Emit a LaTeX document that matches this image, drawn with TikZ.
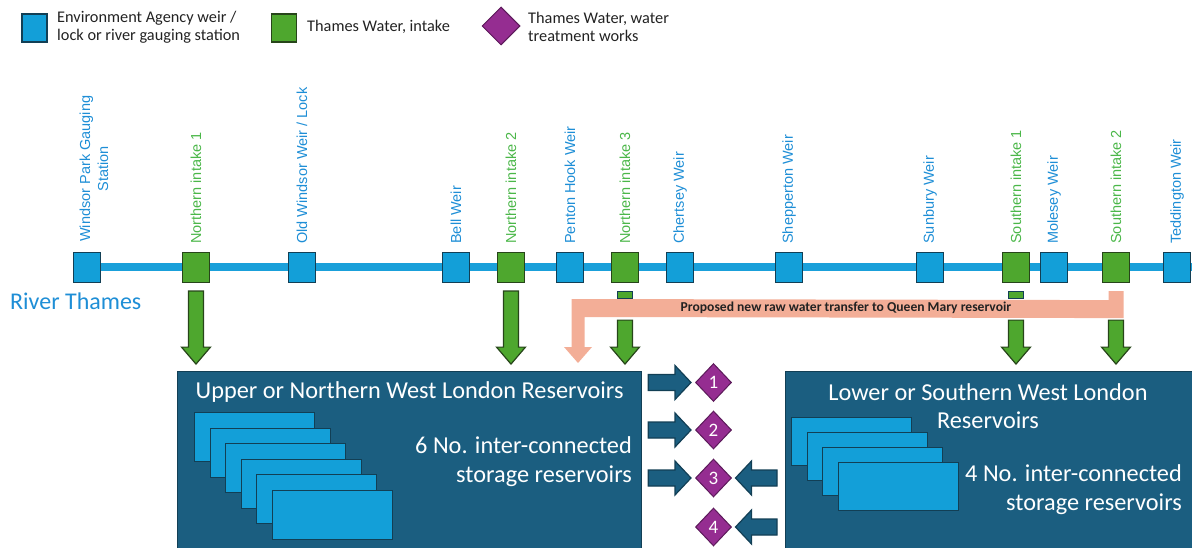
\documentclass[tikz,border=0pt]{standalone}
\usepackage{fontspec}
\setmainfont{Carlito}
\newfontfamily\labfont{Liberation Sans}
\usetikzlibrary{calc,shapes.geometric}
\definecolor{eablue}{HTML}{139FD8}
\definecolor{twgreen}{HTML}{4EA72E}
\definecolor{twdark}{HTML}{27451A}
\definecolor{twpurple}{HTML}{952D91}
\definecolor{purpdark}{HTML}{5C1A5A}
\definecolor{boxblue}{HTML}{1B5E80}
\definecolor{darkline}{HTML}{123F55}
\definecolor{labblue}{HTML}{1E8ED6}
\definecolor{labgreen}{HTML}{4BB749}
\definecolor{salmon}{HTML}{F3AE97}
\definecolor{river}{HTML}{1AA0DA}
\definecolor{txtdark}{HTML}{222222}
\newcommand\downblock[3]{\draw[#1] ($(#2)+(-7.5,0)$) -- ($(#2)+(7.5,0)$) -- ($(#3)+(7.5,-17)$) -- ($(#3)+(14.5,-17)$) -- (#3) -- ($(#3)+(-14.5,-17)$) -- ($(#3)+(-7.5,-17)$) -- cycle;}
\newcommand\rightblock[3]{\draw[#1] ($(#2)+(0,-8)$) -- ($(#3)+(-16,-8)$) -- ($(#3)+(-16,-17)$) -- (#3) -- ($(#3)+(-16,17)$) -- ($(#3)+(-16,8)$) -- ($(#2)+(0,8)$) -- cycle;}
\newcommand\leftblock[3]{\draw[#1] ($(#2)+(0,-8)$) -- ($(#3)+(16,-8)$) -- ($(#3)+(16,-17)$) -- (#3) -- ($(#3)+(16,17)$) -- ($(#3)+(16,8)$) -- ($(#2)+(0,8)$) -- cycle;}
\tikzset{
  ea/.style={draw=darkline, line width=1.2, fill=eablue, minimum width=27, minimum height=30, inner sep=0},
  tw/.style={draw=twdark, line width=1.2, fill=twgreen, minimum width=27, minimum height=30, inner sep=0},
  wtw/.style={diamond, draw=purpdark, line width=1, fill=twpurple, minimum width=36, minimum height=38, inner sep=0, text=white, font=\fontsize{19}{19}\selectfont},
  lab/.style={rotate=90, anchor=west, inner sep=0, font=\labfont\fontsize{14.5}{18}\selectfont},
  legtext/.style={anchor=west, align=left, inner sep=0, text=txtdark, font=\fontsize{16.3}{18.5}\selectfont},
  garrow/.style={draw=twdark, line width=1.2, fill=twgreen},
  barrow/.style={draw=darkline, line width=1.2, fill=boxblue},
  resbox/.style={draw=darkline, line width=1.2, fill=boxblue, anchor=north west, inner sep=0},
  resv/.style={draw=darkline, line width=1.2, fill=eablue, anchor=north west, minimum width=120, minimum height=48, inner sep=0},
  boxtext/.style={text=white, inner sep=0, font=\fontsize{24.3}{28.5}\selectfont},
}
\begin{document}
\begin{tikzpicture}[x=1pt,y=-1pt]
\useasboundingbox (0,0) rectangle (1192,548);
% legend
\node[ea, minimum width=25, minimum height=28] (legea) at (34.5,28) {};
\node[legtext] (legeat) at (57,27) {Environment Agency weir /\\lock or river gauging station};
\node[tw, minimum width=25, minimum height=28] (legtw) at (284,28) {};
\node[legtext] (legtwt) at (307,27) {Thames Water, intake};
\node[wtw, minimum height=38, minimum width=38] (legwtw) at (501,26) {};
\node[legtext] (legwtwt) at (528,27) {Thames Water, water\\treatment works};
% river
\coordinate (riverstart) at (87,267.5);
\coordinate (riverend) at (1192,267.5);
\draw[river, line width=8] (riverstart) -- (riverend);
\node[anchor=west, inner sep=0, text=labblue, font=\fontsize{24}{24}\selectfont] (rt) at (10,301) {River Thames};
% stations
\foreach \n/\x in {ws/87, owl/302, bw/456, ph/570, cw/680, sw/789, sb/930, mw/1054, tdw/1177}
  \node[ea] (\n) at (\x,267.5) {};
\foreach \n/\x in {n1/196, n2/511, n3/625, s1/1016, s2/1116}
  \node[tw] (\n) at (\x,267.5) {};
% labels
\node[lab, align=center, text=labblue] (ws-l) at ($(ws.north)+(7,-10)$) {Windsor Park Gauging\\Station};
\node[lab, text=labblue] (owl-l) at ($(owl.north)+(0,-8)$) {Old Windsor Weir / Lock};
\foreach \n/\l in {bw/Bell Weir, ph/Penton Hook Weir, cw/Chertsey Weir, sw/Shepperton Weir, sb/Sunbury Weir, mw/Molesey Weir, tdw/Teddington Weir}
  \node[lab, text=labblue] (\n-l) at ($(\n.north)+(0,-8)$) {\l};
\foreach \n/\l in {n1/Northern intake 1, n2/Northern intake 2, n3/Northern intake 3, s1/Southern intake 1, s2/Southern intake 2}
  \node[lab, text=labgreen] (\n-l) at ($(\n.north)+(0,-8)$) {\l};
% reservoir boxes
\node[resbox, minimum width=464, minimum height=182] (lbox) at (177,371) {};
\node[resbox, minimum width=412, minimum height=182] (rbox) at (785,371) {};
\foreach \i in {0,...,5}
  \node[resv, minimum height=49] (lr\i) at (194+15.5*\i,412+15.5*\i) {};
\foreach \i in {0,...,3}
  \node[resv] (rr\i) at (791+15.5*\i,417+15*\i) {};
\node[boxtext] (lboxt) at ($(lbox.north)+(0,21)$) {Upper or Northern West London Reservoirs};
\node[boxtext, anchor=east, align=right] (lboxs) at (632,461.5) {6 No. inter-connected\\storage reservoirs};
\node[boxtext, align=center] (rboxt) at (988,406) {Lower or Southern West London\\Reservoirs};
\node[boxtext, anchor=east, align=right] (rboxs) at (1182,489.5) {4 No. inter-connected\\storage reservoirs};
% transfer
\coordinate (tA) at ($(s2.south)+(0,8)$);
\coordinate (tip) at (578,363);
\fill[salmon] ($(tA)+(-7.5,0)$) -- ($(tA)+(7.5,0)$) -- ($(tA)+(7.5,27)$) -- ($(tip)+(6.5,-46)$) -- ($(tip)+(6.5,-16)$) -- ($(tip)+(14,-16)$) -- (tip) -- ($(tip)+(-14,-16)$) -- ($(tip)+(-6.5,-16)$) -- ($(tip)+(-6.5,-64)$) -- ($(tA)+(-7.5,9)$) -- cycle;
\node[inner sep=0, text=txtdark, font=\bfseries\fontsize{13.6}{13.6}\selectfont] (trt) at (846,308) {Proposed new raw water transfer to Queen Mary reservoir};
% intake arrows
\foreach \n in {n1,n2} {
  \coordinate (\n-a) at ($(\n.south)+(0,8)$);
  \coordinate (\n-b) at ($(\n.south)+(0,81)$);
  \downblock{garrow}{\n-a}{\n-b}
}
\foreach \n in {n3,s1} {
  \node[draw=darkline, line width=1.2, fill=twgreen, minimum width=15, minimum height=7, inner sep=0, anchor=north] (\n-t) at ($(\n.south)+(0,8)$) {};
}
\foreach \n in {n3,s1,s2} {
  \coordinate (\n-a) at ($(\n.south)+(0,37)$);
  \coordinate (\n-b) at ($(\n.south)+(0,81)$);
  \downblock{garrow}{\n-a}{\n-b}
}
% treatment works
\foreach \i/\y in {1/382.5, 2/430, 3/478, 4/527}
  \node[wtw] (d\i) at (713.5,\y) {\i};
\foreach \i in {1,2,3} {
  \coordinate (ra\i) at ($(lbox.east |- d\i)+(6,0)$);
  \coordinate (rb\i) at ($(d\i.west)+(-4,0)$);
  \rightblock{barrow}{ra\i}{rb\i}
}
\foreach \i in {3,4} {
  \coordinate (la\i) at ($(rbox.west |- d\i)+(-8,0)$);
  \coordinate (lb\i) at ($(d\i.east)+(3.5,0)$);
  \leftblock{barrow}{la\i}{lb\i}
}
\end{tikzpicture}
\end{document}
